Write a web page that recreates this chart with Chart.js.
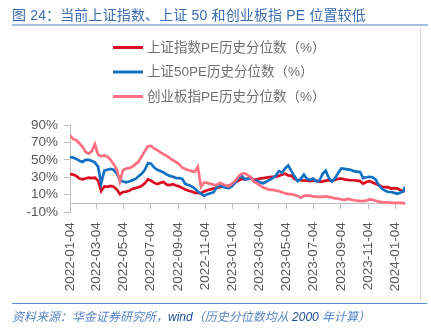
<!DOCTYPE html>
<html><head><meta charset="utf-8">
<script src="https://cdn.jsdelivr.net/npm/chart.js@4.4.0/dist/chart.umd.min.js"></script>
<style>
html,body{margin:0;padding:0;background:#fff;}
#wrap{position:relative;width:431px;height:333px;overflow:hidden;font-family:"Liberation Sans","Noto Sans CJK SC",sans-serif;}
#c{position:absolute;left:0;top:0;}
#title{position:absolute;left:12px;top:6px;font-size:14px;color:#3a6db0;letter-spacing:0.15px;white-space:nowrap;line-height:18px;}
#rule1{position:absolute;left:12px;top:24px;width:416px;height:2px;background:#a3c0e2;}
#rborder{position:absolute;left:420px;top:27px;width:1px;height:273px;background:#d6d6d6;}
#rule2{position:absolute;left:12px;top:303px;width:415px;height:1px;background:#5b8fcf;}
#source{position:absolute;left:12px;top:309px;font-size:12px;font-style:italic;color:#5585c6;white-space:nowrap;line-height:16px;}
#source span{color:#1f4e9a}
</style>
</head><body>
<div id="wrap">
<canvas id="c" width="431" height="333"></canvas>
<div id="title">图 24：当前上证指数、上证 50 和创业板指 PE 位置较低</div>
<div id="rule1"></div>
<div id="rborder"></div>
<div id="rule2"></div>
<div id="source">资料来源：华金证券研究所，<span>wind</span>（历史分位数均从 <span>2000</span> 年计算）</div>
</div>
<script>
const seriesNames = ['上证指数PE历史分位数（%）', '上证50PE历史分位数（%）', '创业板指PE历史分位数（%）'];

const dates = [
'2022-01-04','2022-01-11','2022-01-18','2022-01-25','2022-02-01','2022-02-08','2022-02-15','2022-02-22','2022-03-01','2022-03-08',
'2022-03-15','2022-03-22','2022-03-29','2022-04-05','2022-04-12','2022-04-19','2022-04-26','2022-05-03','2022-05-10','2022-05-17',
'2022-05-24','2022-05-31','2022-06-07','2022-06-14','2022-06-21','2022-06-28','2022-07-05','2022-07-12','2022-07-19','2022-07-26',
'2022-08-02','2022-08-09','2022-08-16','2022-08-23','2022-08-30','2022-09-06','2022-09-13','2022-09-20','2022-09-27','2022-10-04',
'2022-10-11','2022-10-18','2022-10-25','2022-11-01','2022-11-08','2022-11-15','2022-11-22','2022-11-29','2022-12-06','2022-12-13',
'2022-12-20','2022-12-27','2023-01-03','2023-01-10','2023-01-17','2023-01-24','2023-01-31','2023-02-07','2023-02-14','2023-02-21',
'2023-02-28','2023-03-07','2023-03-14','2023-03-21','2023-03-28','2023-04-04','2023-04-11','2023-04-18','2023-04-25','2023-05-02',
'2023-05-09','2023-05-16','2023-05-23','2023-05-30','2023-06-06','2023-06-13','2023-06-20','2023-06-27','2023-07-04','2023-07-11',
'2023-07-18','2023-07-25','2023-08-01','2023-08-08','2023-08-15','2023-08-22','2023-08-29','2023-09-05','2023-09-12','2023-09-19',
'2023-09-26','2023-10-03','2023-10-10','2023-10-17','2023-10-24','2023-10-31','2023-11-07','2023-11-14','2023-11-21','2023-11-28',
'2023-12-05','2023-12-12','2023-12-19','2023-12-26','2024-01-02','2024-01-09','2024-01-16','2024-01-23','2024-01-26'
];

const shIndexPE = [
33.5,33,31.5,28.5,27.5,28.5,29.5,29,29.5,26,
14,19.5,19,20,19,16,10.5,13,13.5,14.5,
16.5,17.5,18.5,20,23,27.5,26,23.5,22,23.5,
24.5,21.5,21,22,20.5,19.5,17.5,16,14.5,13.5,
12,12,11.5,13.5,15,16,17,18,18.5,19,
19,20.5,22,24.5,26,28,27.5,28.5,29,27,
27.5,28.5,29,29.5,30,30.5,30.5,31.5,33,34,
32,31.5,28,26.5,26.5,26,26,25.5,26,26,
25,25,26,26.5,25.5,27,28,28.5,27.5,27,
26.5,26.5,26,25.5,22.5,24.5,25.5,24,22.5,21,
19,18.5,18.5,17,17.5,17,15,14,17
];

const sh50PE = [
53,52.5,51,49,47.5,50,50,48.5,47,42,
23,37.5,38.5,39.5,38.5,34,27,25,24,25,
26.5,28,31,34,38.5,46,45.5,41,38.5,37,
35.5,33,31.5,30.5,29,29,28,22,21,19.5,
17,13.5,11,8.5,10.5,11.5,12.5,18,20.5,19,
18,17.5,20,24,29,32,27.5,28,30,25,
26,24,23,25,27,29,32,37,35,40,
43.5,37,31,25.5,28,33,28,27,28.5,25,
26,34,37.5,29,25,28.5,35,40,39.5,39,
38.5,37,36.5,36,29,30,30.5,30,27.5,21,
17,14.5,13,13,12,11,12.5,14,19
];

const chinextPE = [
78,74,72.5,69,65,59,57,60,68,56,
54,55,53.5,50,45,39,25,38,40,40.5,
42,45,48,54,60,65.5,66,63,61,58.5,
56.5,54.5,52,49.5,47.5,45,41,39.5,38,37,
36,42,19,24,23.5,22.5,21.5,21,23.5,22,
20.5,19.5,22.5,26,30.5,34,34.5,32.5,30,25,
22.5,20.5,18,17,15.5,15.5,14.5,14,12.5,11.5,
10.5,10.5,9.5,8.5,6.5,8.5,9,8.5,8,7.5,
7.5,7.5,8,7.5,6.5,5.5,5.5,4.5,4,5,
4.5,3.5,3,2.5,2.5,3,4.5,4,3,2,
1.5,1,1,0.5,0.5,0.5,0.5,0.3,0.3
];

const xTickLabels = ['2022-01-04','2022-03-04','2022-05-04','2022-07-04','2022-09-04','2022-11-04',
'2023-01-04','2023-03-04','2023-05-04','2023-07-04','2023-09-04','2023-11-04','2024-01-04'];
const yTickValues = [-10, 10, 30, 50, 70, 90];

const seriesColors = ['#dc0a1e', '#1070c2', '#ff6f82'];

const FONT = '"Liberation Sans", "Noto Sans CJK SC", sans-serif';
const toT = s => Date.parse(s + 'T00:00:00Z');
const series = [shIndexPE, sh50PE, chinextPE];

const legendPlugin = {
  id: 'vlegend',
  afterDraw(chart) {
    const c = chart.ctx;
    chart.data.datasets.forEach((ds, i) => {
      const y = 47.5 + i * 24.5;
      c.save();
      c.strokeStyle = ds.borderColor;
      c.lineWidth = 3;
      c.beginPath(); c.moveTo(113, y); c.lineTo(143, y); c.stroke();
      c.fillStyle = '#707070';
      c.font = '13.5px ' + FONT;
      c.textBaseline = 'middle';
      c.textAlign = 'left';
      c.fillText(ds.label, 147, y + 0.5);
      c.restore();
    });
  }
};

new Chart(document.getElementById('c'), {
  type: 'line',
  data: {
    datasets: series.map((vals, k) => ({
      label: seriesNames[k],
      data: dates.map((d, i) => ({ x: toT(d), y: vals[i] })),
      borderColor: seriesColors[k],
      backgroundColor: seriesColors[k],
      borderWidth: 2.7,
      pointRadius: 0,
      tension: 0,
      fill: false,
      order: 2 - k
    }))
  },
  options: {
    responsive: false,
    animation: false,
    layout: { padding: { top: 125, left: 20, right: 26, bottom: 121 } },
    plugins: { legend: { display: false }, tooltip: { enabled: false } },
    scales: {
      x: {
        type: 'linear',
        position: { y: 0 },
        bounds: 'data',
        min: toT(dates[0]),
        max: toT(dates[dates.length - 1]),
        afterBuildTicks: s => { s.ticks = xTickLabels.map(l => ({ value: toT(l) })); },
        ticks: {
          autoSkip: false, minRotation: 90, maxRotation: 90, padding: 14,
          color: '#595959', font: { size: 13.5, family: FONT },
          callback: (v, i) => xTickLabels[i]
        },
        grid: { drawOnChartArea: false, drawTicks: true, tickLength: 5, color: '#bfbfbf' },
        border: { display: true, color: '#bfbfbf', width: 1 }
      },
      y: {
        min: -10, max: 90,
        afterBuildTicks: s => { s.ticks = yTickValues.map(v => ({ value: v })); },
        afterFit: s => { s.width = 50; },
        ticks: {
          autoSkip: false,
          padding: 6, color: '#595959', font: { size: 13.5, family: FONT },
          callback: v => v + '%'
        },
        grid: { drawOnChartArea: false, drawTicks: true, tickLength: 6, color: '#bfbfbf' },
        border: { display: true, color: '#bfbfbf', width: 1 }
      }
    }
  },
  plugins: [legendPlugin]
});
</script>
</body></html>
